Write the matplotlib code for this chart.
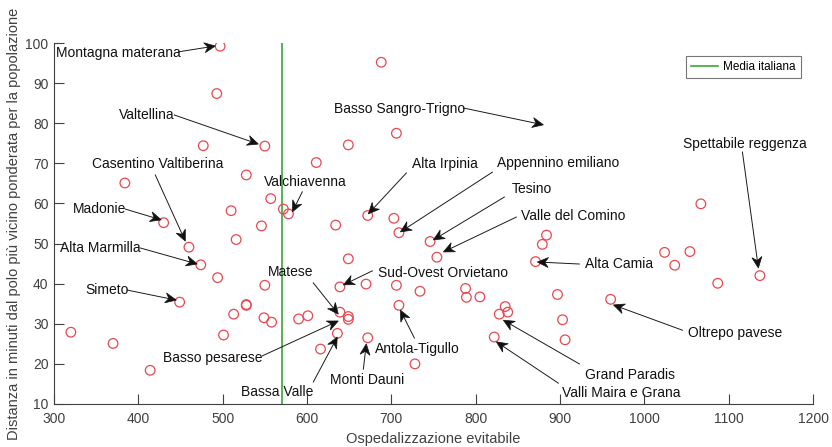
import numpy as np
import matplotlib.pyplot as plt
from matplotlib.patches import Polygon
from matplotlib.transforms import IdentityTransform

plt.rcParams['font.family'] = ['Liberation Sans', 'DejaVu Sans']

# punti: ospedalizzazione evitabile vs distanza (minuti)
osped = [497, 493, 688, 706, 477, 550, 649, 611, 384, 528,
         557, 510, 572, 578, 672, 703, 430, 546, 634, 460,
         516, 709, 746, 754, 474, 649, 494, 550, 639, 670,
         706, 734, 449, 528, 528, 709, 513, 549, 558, 590,
         601, 639, 649, 649, 636, 672, 501, 616, 320, 370,
         414, 728, 884, 879, 871, 1024, 1054, 1036, 1137, 1087,
         788, 789, 805, 897, 960, 835, 838, 828, 903, 906,
         822, 1067]
dist = [99.2, 87.4, 95.2, 77.5, 74.4, 74.3, 74.6, 70.2, 65.1, 67.1,
        61.2, 58.2, 58.6, 57.4, 57.0, 56.3, 55.2, 54.4, 54.6, 49.1,
        51.0, 52.7, 50.5, 46.6, 44.7, 46.2, 41.5, 39.6, 39.2, 39.9,
        39.6, 38.1, 35.4, 34.8, 34.6, 34.6, 32.4, 31.5, 30.4, 31.2,
        32.0, 32.9, 31.8, 31.1, 27.6, 26.5, 27.2, 23.7, 27.9, 25.1,
        18.4, 20.0, 52.1, 49.8, 45.5, 47.8, 48.0, 44.6, 42.0, 40.1,
        38.8, 36.6, 36.7, 37.3, 36.1, 34.3, 32.9, 32.4, 31.0, 26.0,
        26.7, 59.9]

media_italiana = 570

# etichette: testo, posizione testo, inizio freccia, punta freccia
etichette = ['Montagna materana', 'Valtellina', 'Casentino Valtiberina', 'Madonie',
             'Alta Marmilla', 'Simeto', 'Basso pesarese', 'Bassa Valle',
             'Monti Dauni', 'Matese', 'Sud-Ovest Orvietano', 'Antola-Tigullo',
             'Alta Irpinia', 'Appennino emiliano', 'Tesino', 'Valle del Comino',
             'Basso Sangro-Trigno', 'Spettabile reggenza', 'Alta Camia',
             'Oltrepo pavese', 'Grand Paradis', 'Valli Maira e Grana', 'Valchiavenna']
testo_xy = [(302.7, 97.6), (377.4, 82.05), (345.4, 69.8), (322.9, 58.6),
            (307.5, 48.9), (337.1, 38.4), (429.6, 21.5), (522.1, 13.0),
            (627.6, 16.0), (554.1, 42.9), (684.6, 42.7), (681.0, 23.7),
            (724.9, 69.8), (825.7, 70.1), (842.3, 63.6), (854.2, 56.9),
            (632.4, 83.5), (1046.3, 74.8), (930.0, 44.9),
            (1052.2, 27.7), (930.0, 17.2), (902.7, 12.7), (549.4, 65.3)]
freccia_da = [(447.6, 97.8), (442.7, 82.05), (420.1, 67.1), (384.5, 58.6),
              (402.3, 48.9), (386.9, 38.4), (547.0, 22.0), (607.5, 15.5),
              (666.8, 18.7), (607.4, 40.2), (677.5, 43.2), (727.3, 26.45),
              (717.8, 67.6), (819.8, 67.8), (834.0, 61.6), (848.2, 56.6),
              (785.4, 83.8), (1116.3, 72.8), (922.9, 44.9),
              (1045.1, 28.4), (922.9, 20.0), (898.0, 15.2), (594.4, 62.9)]
freccia_a = [(491.3, 99.25), (542.3, 74.8), (455.7, 50.6), (427.2, 55.9),
             (469.9, 44.9), (445.0, 35.9), (637.1, 30.7), (635.9, 26.7),
             (670.3, 25.0), (637.1, 32.4), (643.1, 39.7), (710.7, 33.4),
             (672.7, 57.4), (710.7, 52.9), (749.8, 50.9), (761.7, 47.9),
             (880.3, 79.6), (1135.2, 43.9), (873.1, 45.4),
             (963.3, 34.7), (832.8, 30.9), (824.5, 25.5), (582.6, 57.9)]

fig = plt.figure(figsize=(8.32, 4.47), dpi=100)
ax = fig.add_axes([0.0649, 0.0962, 0.9123, 0.8076])

grigio = '#404040'
ax.scatter(osped, dist, s=48, facecolors='none', edgecolors='#e8484f', linewidths=0.9, zorder=3)
ax.plot([media_italiana, media_italiana], [10, 100], color='#3aa63a', lw=1.2, label='Media italiana')

ax.set_xlim(300, 1200)
ax.set_ylim(10, 100)


def freccia(p0, p1, L=11.0, W=5.0, rientro=3.5):
    # freccia stile matlab (punta con retro concavo), disegnata in pixel
    a = ax.transData.transform(p0)
    b = ax.transData.transform(p1)
    u = (b - a) / np.hypot(*(b - a))
    n = np.array([-u[1], u[0]])
    base = b - (L - rientro) * u
    ax.plot([a[0], base[0]], [a[1], base[1]], color='#1a1a1a', lw=0.7,
            transform=IdentityTransform(), zorder=4, clip_on=False)
    testa = [b, b - L * u + W * n, base, b - L * u - W * n]
    ax.add_patch(Polygon(testa, closed=True, facecolor='#111111', edgecolor='#111111',
                         lw=0.5, transform=IdentityTransform(), zorder=4, clip_on=False))


for lab, (tx, ty), p0, p1 in zip(etichette, testo_xy, freccia_da, freccia_a):
    ax.text(tx, ty, lab, fontsize=10, color='#111111', ha='left', va='center', zorder=5)
    freccia(p0, p1)

ax.set_xticks(np.arange(300, 1201, 100))
ax.set_yticks(np.arange(10, 101, 10))
ax.spines['top'].set_visible(False)
ax.spines['right'].set_visible(False)
for s in ['left', 'bottom']:
    ax.spines[s].set_color(grigio)
    ax.spines[s].set_linewidth(0.8)
ax.tick_params(direction='in', length=7, width=0.8, colors=grigio, labelsize=10)
ax.tick_params(axis='x', pad=6)
ax.tick_params(axis='y', pad=4)
ax.set_xlabel('Ospedalizzazione evitabile', fontsize=10.5, color=grigio, labelpad=4)
ax.set_ylabel('Distanza in minuti dal polo più vicino ponderata per la popolazione',
              fontsize=10.5, color=grigio, labelpad=3)

leg = ax.legend(loc='upper right', bbox_to_anchor=(0.984, 0.965), fontsize=8.5,
                frameon=True, fancybox=False, handlelength=2.3, handletextpad=0.4,
                borderpad=0.45, borderaxespad=0)
leg.get_frame().set_edgecolor('#555555')
leg.get_frame().set_linewidth(0.8)

fig.savefig('out.png', dpi=100)
